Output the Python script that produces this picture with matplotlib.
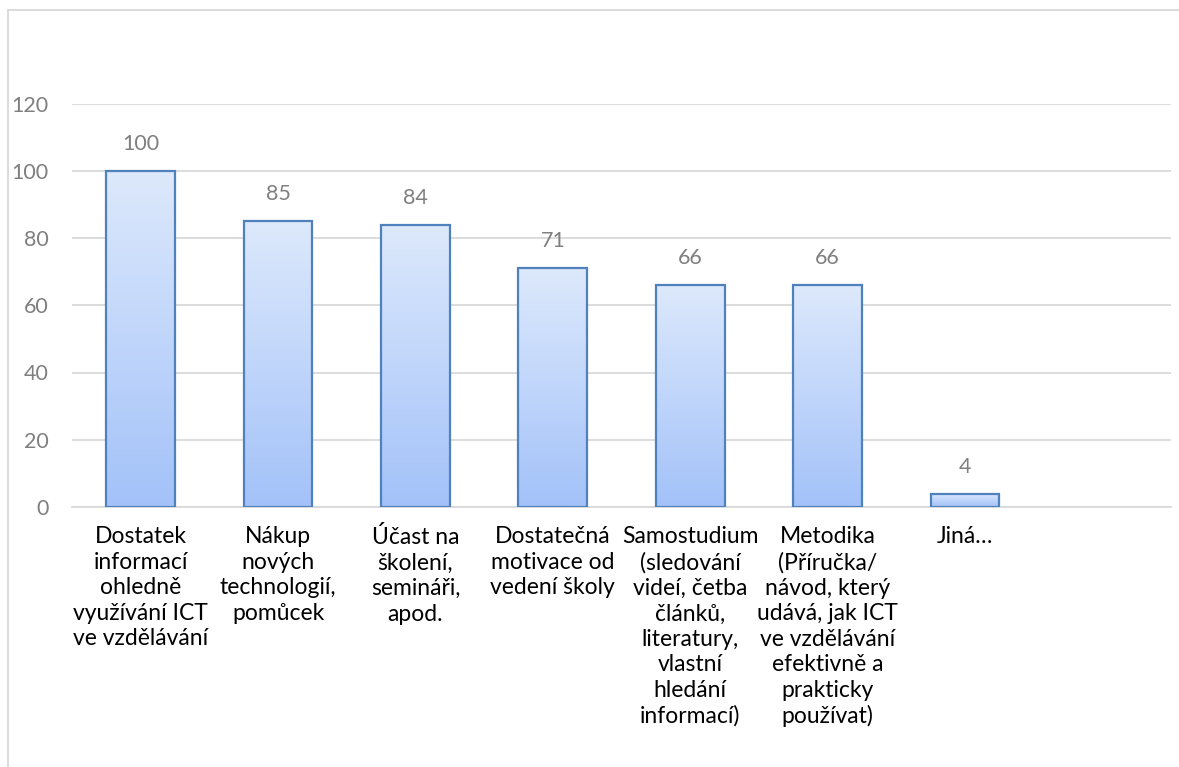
import matplotlib.pyplot as plt
from matplotlib.colors import LinearSegmentedColormap
from matplotlib.patches import Rectangle
import numpy as np

plt.rcParams['font.family'] = ['Lato', 'DejaVu Sans']

categories = [
    "Dostatek\ninformací\nohledně\nvyužívání ICT\nve vzdělávání",
    "Nákup\nnových\ntechnologií,\npomůcek",
    "Účast na\nškolení,\nsemináři,\napod.",
    "Dostatečná\nmotivace od\nvedení školy",
    "Samostudium\n(sledování\nvideí, četba\nčlánků,\nliteratury,\nvlastní\nhledání\ninformací)",
    "Metodika\n(Příručka/\nnávod, který\nudává, jak ICT\nve vzdělávání\nefektivně a\nprakticky\npoužívat)",
    "Jiná…",
    "",
]
values = [100, 85, 84, 71, 66, 66, 4, None]
yticks = [0, 20, 40, 60, 80, 100, 120]

W, H = 1179, 767
fig = plt.figure(figsize=(W / 100, H / 100), dpi=100)

# outer chart frame (cropped at right and bottom)
fig.add_artist(Rectangle((8 / W, -0.05), 1.2, 1 - 10 / H + 0.05, transform=fig.transFigure,
                         fill=False, edgecolor="#d9d9d9", linewidth=1.3))

ax = fig.add_axes([72 / W, (H - 507) / H, (1171 - 72) / W, (507 - 103.5) / H])

x = np.arange(len(categories))
cmap = LinearSegmentedColormap.from_list("grad", ["#a3c2f9", "#dde9fc"])
grad = np.linspace(0, 1, 256).reshape(-1, 1)

for xi, v in zip(x, values):
    if v is None:
        continue
    bar = ax.bar(xi, v, width=0.5, color="none", edgecolor="#4f81bd", linewidth=1.6, zorder=3)[0]
    im = ax.imshow(grad, cmap=cmap, aspect="auto", origin="lower",
                   extent=(xi - 0.25, xi + 0.25, 0, v), zorder=2)
    im.set_clip_path(bar)
    ax.text(xi, v + 5, str(v), ha="center", va="bottom", fontsize=15.5, color="#7f7f7f")

ax.set_xlim(-0.5, len(categories) - 0.5)
ax.set_ylim(0, 120)
ax.set_yticks(yticks)
ax.set_xticks(x)
ax.set_xticklabels(categories, fontsize=16.5, color="#000000", linespacing=1.26)
ax.tick_params(axis="y", labelsize=15.5, labelcolor="#7f7f7f", length=0, pad=17)
ax.tick_params(axis="x", length=0, pad=14)
ax.grid(axis="y", color="#d9d9d9", linewidth=1.3, zorder=0)
ax.set_axisbelow(True)
for s in ["top", "right", "left"]:
    ax.spines[s].set_visible(False)
ax.spines["bottom"].set_color("#d9d9d9")
ax.spines["bottom"].set_linewidth(1.3)

fig.savefig("out.png", dpi=100)
